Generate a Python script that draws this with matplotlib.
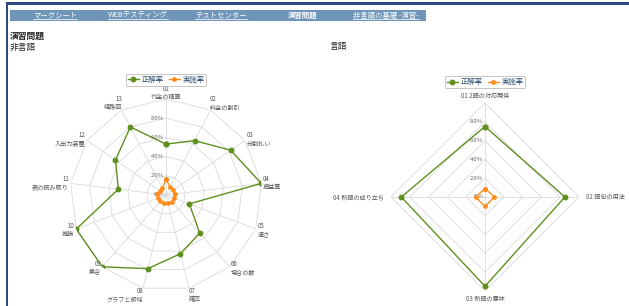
import numpy as np
import matplotlib
matplotlib.use('Agg')
import matplotlib.pyplot as plt
from matplotlib.lines import Line2D
from matplotlib.patches import Rectangle

plt.rcParams['font.family'] = ['Noto Sans CJK JP', 'DejaVu Sans']

# 非言語 (13 units)
nonverbal_labels = ['01\n代金の精算', '02\n料金の割引', '03\n分割払い', '04\n損益算', '05\n速さ',
                    '06\n場合の数', '07\n確率', '08\nグラフと領域', '09\n集合', '10\n推論',
                    '11\n表の読み取り', '12\n入出力装置', '13\n経路図']
nonverbal_correct = [53, 64, 82, 100, 26, 53, 63, 79, 100, 100, 50, 64, 80]
nonverbal_done = [17, 9, 9, 9, 9, 10, 9, 9, 9, 9, 9, 8, 8]

# 言語 (4 units)
verbal_labels = ['01 2語の対応関係', '02 語句の用法', '03 熟語の意味', '04 熟語の成り立ち']
verbal_correct = [75, 85, 95, 89]
verbal_done = [9, 10, 10, 10]

levels = [20, 40, 60, 80, 100]
tick_levels = [0, 20, 40, 60, 80]
nav_items = ['マークシート', 'WEBテスティング', 'テストセンター', '演習問題', '非言語の基礎 -演習-']

GREEN = '#5f8f1f'
ORANGE = '#ff8c1a'
GRID = '#dadada'
LABEL = '#555555'

W, H = 629, 306
fig = plt.figure(figsize=(W / 100, H / 100), dpi=100)


def px(x, y, w, h):
    return [x / W, 1 - (y + h) / H, w / W, h / H]


def radar(rect, labels, correct, done, label_r, legend_y):
    ax = fig.add_axes(rect, projection='polar')
    ax.set_theta_zero_location('N')
    ax.set_theta_direction(-1)
    ax.axis('off')
    n = len(labels)
    theta = np.arange(n) * 2 * np.pi / n
    closed = np.append(theta, theta[0])
    for lvl in levels:
        ax.plot(closed, [lvl] * (n + 1), color=GRID, lw=0.6, zorder=1)
    for t in theta:
        ax.plot([t, t], [0, 100], color=GRID, lw=0.6, zorder=1)
    ax.set_ylim(0, 100)
    for lvl in tick_levels:
        ax.text(0, lvl, f'{lvl}%  ', ha='right', va='center', fontsize=4.3,
                color='#666666', zorder=2)
    l1, = ax.plot(closed, np.append(correct, correct[0]), color=GREEN, lw=1.0,
                  marker='o', ms=3.2, zorder=4, label='正解率')
    l2, = ax.plot(closed, np.append(done, done[0]), color=ORANGE, lw=1.0,
                  marker='o', ms=2.4, zorder=5, label='実施率')
    for t, lab in zip(theta, labels):
        s, c = np.sin(t), np.cos(t)
        ha = 'center' if abs(s) < 0.15 else ('left' if s > 0 else 'right')
        r = label_r
        if c > 0.75:
            va = 'bottom'
            r = label_r - 4
        elif c < -0.75:
            va = 'top'
            r = label_r - 3
        else:
            va = 'center'
        ax.text(t, r, lab, ha=ha, va=va, ma=ha, fontsize=4.4, color=LABEL,
                linespacing=1.05)
    leg = ax.legend(handles=[l1, l2], loc='lower center', bbox_to_anchor=(0.5, legend_y),
                    ncol=2, fontsize=5.3, frameon=True, fancybox=True, handlelength=1.5,
                    handletextpad=0.35, columnspacing=0.7, borderpad=0.25,
                    borderaxespad=0)
    leg.get_frame().set_edgecolor('#aaaaaa')
    leg.get_frame().set_linewidth(0.6)
    for txt in leg.get_texts():
        txt.set_color('#274b6d')
    return ax


radar(px(70, 99, 192, 192), nonverbal_labels, nonverbal_correct, nonverbal_done, 102, 1.07)
radar(px(391, 103, 188, 188), verbal_labels, verbal_correct, verbal_done, 107, 1.08)

# page frame
fig.add_artist(Rectangle((6 / W, 1 - 5 / H), 1, 3 / H, transform=fig.transFigure,
                         color='#2c4c80', lw=0))
fig.add_artist(Rectangle((6 / W, 0), 2 / W, 1 - 2 / H, transform=fig.transFigure,
                         color='#2c4c80', lw=0))
fig.add_artist(Rectangle((10 / W, 1 - 21 / H), 416 / W, 11 / H, transform=fig.transFigure,
                         color='#6f96b8', lw=0))

nav_x = [33, 108, 195, 288, 353]
texts = []
for x, item in zip(nav_x, nav_items):
    t = fig.text(x / W, 1 - 15.5 / H, item, ha='left', va='center', fontsize=5.3,
                 color='white', fontweight='bold' if item == '演習問題' else 'normal')
    texts.append((t, item != '演習問題'))

fig.text(10 / W, 1 - 36 / H, '演習問題', ha='left', va='center', fontsize=6.3,
         color='#222222', fontweight='bold')
fig.text(10 / W, 1 - 47 / H, '非言語', ha='left', va='center', fontsize=6.3, color='#222222')
fig.text(329 / W, 1 - 47 / H, '言語', ha='left', va='center', fontsize=6.3, color='#222222')

# underline nav links
fig.canvas.draw()
r = fig.canvas.get_renderer()
for t, underline in texts:
    if underline:
        bb = t.get_window_extent(r)
        fig.add_artist(Line2D([bb.x0 / W, bb.x1 / W], [(bb.y0 + 0.5) / H] * 2,
                              transform=fig.transFigure, color='white', lw=0.5))

fig.savefig('out.png', dpi=100)
